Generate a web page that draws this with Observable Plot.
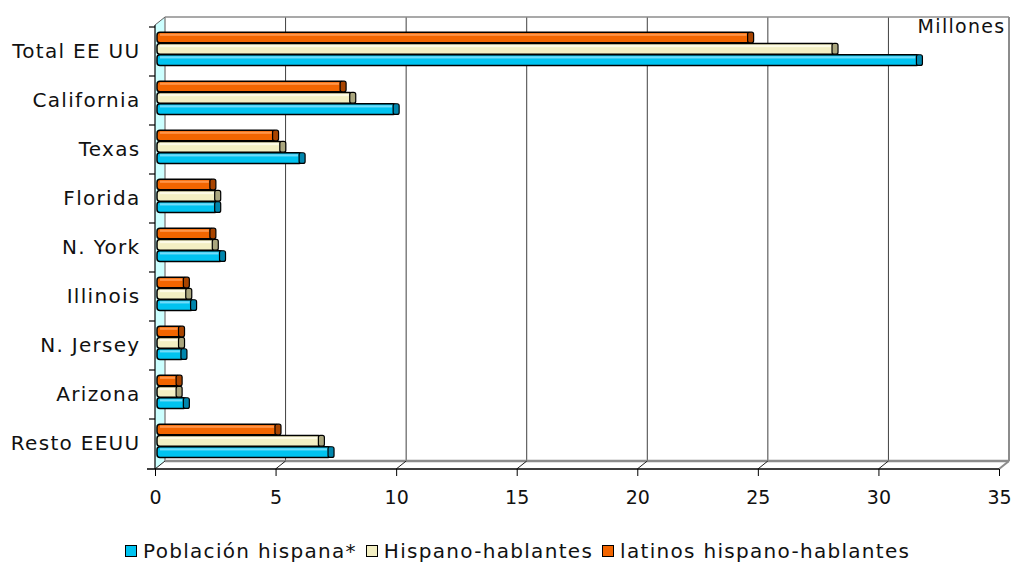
<!DOCTYPE html>
<html>
<head>
<meta charset="utf-8">
<script src="https://cdn.jsdelivr.net/npm/d3@7"></script>
<script src="https://cdn.jsdelivr.net/npm/@observablehq/plot@0.6"></script>
<style>
  body { margin: 0; background: #fff; font-family: "DejaVu Sans", sans-serif; }
  #legend { display: flex; align-items: center; height: 48px; margin-top: 7px; padding-left: 125px;
            font-size: 20px; letter-spacing: 1.3px; color: #111; }
  .item { display: flex; align-items: center; margin-right: 9px; white-space: nowrap; }
  .sw { width: 10px; height: 10px; border: 1.5px solid #000; margin-right: 6px; }
</style>
</head>
<body>
<div id="chart"></div>
<script>
// Hispanic population by state (millions)
const states = ["Total EE UU", "California", "Texas", "Florida", "N. York", "Illinois", "N. Jersey", "Arizona", "Resto EEUU"];
const poblacion = [31.7, 10.0, 6.1, 2.6, 2.8, 1.6, 1.2, 1.3, 7.3];
const hablantes = [28.2, 8.2, 5.3, 2.6, 2.5, 1.4, 1.1, 1.0, 6.9];
const latinos   = [24.7, 7.8, 5.0, 2.4, 2.4, 1.3, 1.1, 1.0, 5.1];

const seriesNames  = ["Población hispana*", "Hispano-hablantes", "latinos hispano-hablantes"];
const seriesValues = [poblacion, hablantes, latinos];
const seriesColors = ["#00c3f0", "#f3efc3", "#f26500"];
const shineColors  = ["#70dcfa", "#fdfbe6", "#ff9548"];
const capColors    = ["#0086ad", "#aaa67e", "#a84400"];
const xTicks = [0, 5, 10, 15, 20, 25, 30, 35];
const unitLabel = "Millones";

const W = 1012, H = 520;
const M = {top: 25, right: 13, bottom: 51, left: 155};
const DX = 10, DY = -8;           // depth of the 3D box
const bandStep = (H - M.top - M.bottom) / states.length;
const barH = 11;
const barOffsets = [8.6, -2.7, -14.0]; // vertical shift of each series inside its band

const rows = seriesValues.flatMap((vals, k) =>
  states.map((s, i) => ({state: s, series: k, value: vals[i]})));

// walls, floor, gridlines and the front axis lines of the 3D box
function box3d(index, scales, values, dims) {
  const {x, y} = scales;
  const top = dims.marginTop, bottom = dims.height - dims.marginBottom;
  const x0 = x(xTicks[0]), x1 = x(xTicks[xTicks.length - 1]);
  const g = d3.create("svg:g");
  const line = (a, b, stroke, sw) => g.append("line")
    .attr("x1", a[0]).attr("y1", a[1]).attr("x2", b[0]).attr("y2", b[1])
    .attr("stroke", stroke).attr("stroke-width", sw);
  // left side wall
  g.append("polygon")
    .attr("points", [[x0, top], [x0 + DX, top + DY], [x0 + DX, bottom + DY], [x0, bottom]].join(" "))
    .attr("fill", "#ccffff");
  // floor
  g.append("polygon")
    .attr("points", [[x0, bottom], [x0 + DX, bottom + DY], [x1 + DX, bottom + DY], [x1, bottom]].join(" "))
    .attr("fill", "#fff");
  // gridlines on the back wall
  for (const t of xTicks.slice(1, -1)) {
    line([x(t) + DX, top + DY], [x(t) + DX, bottom + DY], "#404040", 1);
  }
  // back wall outline
  line([x0 + DX, top + DY], [x1 + DX, top + DY], "#8c8c8c", 1.5);
  line([x1 + DX, top + DY], [x1 + DX, bottom + DY], "#8c8c8c", 2);
  line([x0 + DX, top + DY], [x0 + DX, bottom + DY], "#8c8c8c", 1.5);
  line([x0 + DX, bottom + DY], [x1 + DX, bottom + DY], "#8c8c8c", 2.5);
  // floor slants at each tick
  for (const t of xTicks.slice(0, -1)) {
    line([x(t), bottom], [x(t) + DX, bottom + DY], "#202020", 1);
  }
  line([x1, bottom], [x1 + DX, bottom + DY], "#8c8c8c", 2);
  // front edges
  line([x0, top], [x0 + DX, top + DY], "#606060", 1);
  line([x0, top], [x0, bottom], "#000", 1.2);
  line([x0 - 8, bottom], [x1, bottom], "#000", 1.5);
  // category separators
  for (const s of states) line([x0 - 6, y(s)], [x0, y(s)], "#000", 1.2);
  return g.node();
}

const barMarks = seriesNames.flatMap((name, k) => {
  const data = rows.filter(d => d.series === k);
  const inset = (bandStep - barH) / 2;
  const common = {y: "state", dy: barOffsets[k], insetTop: inset, insetBottom: inset};
  return [
    Plot.barX(data, {...common, x1: () => 0, x2: "value", insetLeft: 2,
      fill: seriesColors[k], stroke: "#000", strokeWidth: 1.5, rx: 3}),
    // light reflection along the top of each bar
    Plot.barX(data, {y: "state", dy: barOffsets[k], x1: () => 0, x2: "value",
      insetLeft: 5, insetRight: 4, insetTop: inset + 1.5, insetBottom: bandStep - inset - 4,
      fill: shineColors[k]}),
    // end cap of the bar
    Plot.barX(data, {...common, x1: "value", x2: "value", insetLeft: -3, insetRight: -3,
      fill: capColors[k], stroke: "#000", strokeWidth: 1.2, rx: 2})
  ];
});

const chart = Plot.plot({
  width: W, height: H,
  marginTop: M.top, marginRight: M.right, marginBottom: M.bottom, marginLeft: M.left,
  style: {fontFamily: "DejaVu Sans", fontSize: "20px", letterSpacing: "1.3px", color: "#111", background: "#fff", overflow: "visible"},
  x: {domain: [xTicks[0], xTicks[xTicks.length - 1]]},
  y: {domain: states, padding: 0},
  marks: [
    box3d,
    ...barMarks,
    Plot.axisY({tickSize: 0, tickPadding: 15, label: null}),
    Plot.axisX({ticks: xTicks, tickSize: 7, tickPadding: 14, label: null, stroke: "#000", fontSize: 19}),
    Plot.text([unitLabel], {frameAnchor: "top-right", dx: 6, dy: -6, fill: "#111", fontSize: 19})
  ]
});

// numbers on the x axis are set without extra tracking
d3.select(chart).selectAll('g[aria-label="x-axis tick label"]')
  .attr("letter-spacing", "0").style("letter-spacing", "0px");

document.getElementById("chart").appendChild(chart);

// legend
const legend = d3.select("body").append("div").attr("id", "legend");
seriesNames.forEach((name, k) => {
  const item = legend.append("div").attr("class", "item");
  item.append("div").attr("class", "sw").style("background", seriesColors[k]);
  item.append("span").text(name);
});
</script>
</body>
</html>
